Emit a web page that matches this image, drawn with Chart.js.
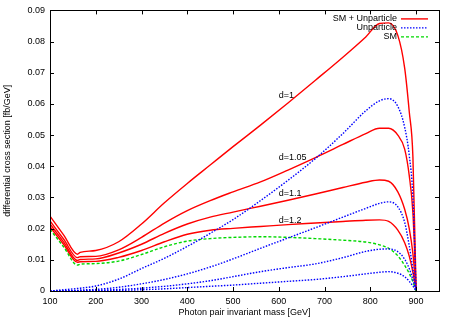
<!DOCTYPE html>
<html>
<head>
<meta charset="utf-8">
<script src="https://cdn.jsdelivr.net/npm/chart.js@4.4.1/dist/chart.umd.min.js"></script>
<style>
  html, body { margin: 0; padding: 0; background: #fff; }
</style>
</head>
<body>
<canvas id="chart" width="454" height="318"></canvas>
<script>
// photon pair invariant mass [GeV]
const mass = [100, 130, 160, 166, 200, 250, 300, 350, 400, 450, 500, 560, 620, 680, 740, 790, 820, 840, 860, 875, 885, 893, 900];

// SM + Unparticle
const total_d1   = [0.0240, 0.0179, 0.0118, 0.0124, 0.0130, 0.0158, 0.0215, 0.0283, 0.0345, 0.0404, 0.0463, 0.0532, 0.0603, 0.0676, 0.0750, 0.0815, 0.0858, 0.0860, 0.0820, 0.0715, 0.0575, 0.0430, 0];
const total_d105 = [0.0225, 0.0166, 0.0107, 0.0110, 0.0111, 0.0132, 0.0172, 0.0218, 0.0258, 0.0290, 0.0318, 0.0350, 0.0388, 0.0428, 0.0470, 0.0505, 0.0522, 0.0522, 0.0500, 0.0455, 0.0370, 0.0250, 0];
const total_d11  = [0.0215, 0.0157, 0.0098, 0.0101, 0.0103, 0.0122, 0.0150, 0.0185, 0.0215, 0.0237, 0.0253, 0.0272, 0.0291, 0.0311, 0.0332, 0.0349, 0.0356, 0.0352, 0.0318, 0.0262, 0.0200, 0.0120, 0];
const total_d12  = [0.0206, 0.0149, 0.0092, 0.0094, 0.0095, 0.0108, 0.0130, 0.0158, 0.0182, 0.0195, 0.0201, 0.0207, 0.0213, 0.0218, 0.0223, 0.0227, 0.0228, 0.0223, 0.0195, 0.0155, 0.0112, 0.0060, 0];

// Unparticle only
const unpart_d1   = [0, 0.0004, 0.0008, 0.0009, 0.0016, 0.0038, 0.0072, 0.0105, 0.0143, 0.0185, 0.0229, 0.0290, 0.0355, 0.0425, 0.0505, 0.0578, 0.0610, 0.0617, 0.0592, 0.0525, 0.0435, 0.0300, 0];
const unpart_d105 = [0, 0.0001, 0.0002, 0.0003, 0.0005, 0.0012, 0.0023, 0.0037, 0.0055, 0.0077, 0.0103, 0.0137, 0.0170, 0.0203, 0.0237, 0.0265, 0.0281, 0.0286, 0.0270, 0.0220, 0.0145, 0.0070, 0];
const unpart_d11  = [0, 0, 0.0001, 0.0001, 0.0002, 0.0005, 0.0009, 0.0015, 0.0023, 0.0033, 0.0046, 0.0062, 0.0075, 0.0087, 0.0107, 0.0127, 0.0134, 0.0135, 0.0126, 0.0102, 0.0072, 0.0036, 0];
const unpart_d12  = [0, 0, 0, 0, 0.0001, 0.0002, 0.0004, 0.0007, 0.0011, 0.0015, 0.0019, 0.0025, 0.0031, 0.0037, 0.0046, 0.0055, 0.0060, 0.0062, 0.0057, 0.0046, 0.0031, 0.0016, 0];

// Standard Model
const sm = [0.0198, 0.0141, 0.0083, 0.0086, 0.0088, 0.0096, 0.0117, 0.0142, 0.0160, 0.0168, 0.0172, 0.0174, 0.0172, 0.0168, 0.0163, 0.0157, 0.0148, 0.0137, 0.0113, 0.0082, 0.0056, 0.0030, 0];

const xTicks = [100, 200, 300, 400, 500, 600, 700, 800, 900];
const yTicks = [0, 0.01, 0.02, 0.03, 0.04, 0.05, 0.06, 0.07, 0.08, 0.09];
const yTickLabels = ["0", "0.01", "0.02", "0.03", "0.04", "0.05", "0.06", "0.07", "0.08", "0.09"];

// curve labels, placed in data coordinates
const annoText = ["d=1", "d=1.05", "d=1.1", "d=1.2"];
const annoX = [600, 600, 600, 600];
const annoY = [0.0628, 0.0429, 0.0314, 0.0227];

const FONT = "Liberation Sans, Arial, Helvetica, sans-serif";
const RED = "rgb(255,0,0)";
const BLUE = "rgb(0,0,255)";
const GREEN = "rgb(0,215,0)";

const toPoints = (ys) => mass.map((x, i) => ({ x: x, y: ys[i] }));

const line = (label, ys, color, dash) => ({
  label: label,
  data: toPoints(ys),
  borderColor: color,
  borderWidth: 1.4,
  borderDash: dash,
  pointRadius: 0,
  fill: false,
  cubicInterpolationMode: "monotone",
});

// gnuplot style frame: box border, inward ticks mirrored on all sides, inner legend
const framePlugin = {
  id: "frame",
  afterDraw(chart) {
    const { ctx, chartArea: a, scales } = chart;
    const x = scales.x;
    const y = scales.y;
    ctx.save();
    ctx.strokeStyle = "#000";
    ctx.lineWidth = 1;
    ctx.setLineDash([]);
    ctx.beginPath();
    xTicks.forEach((v) => {
      const px = Math.round(x.getPixelForValue(v)) + 0.5;
      ctx.moveTo(px, a.bottom); ctx.lineTo(px, a.bottom - 4);
      ctx.moveTo(px, a.top); ctx.lineTo(px, a.top + 4);
    });
    yTicks.forEach((v) => {
      const py = Math.round(y.getPixelForValue(v)) + 0.5;
      ctx.moveTo(a.left, py); ctx.lineTo(a.left + 4, py);
      ctx.moveTo(a.right, py); ctx.lineTo(a.right - 4, py);
    });
    ctx.stroke();
    ctx.strokeRect(Math.round(a.left) + 0.5, Math.round(a.top) + 0.5,
      Math.round(a.right - a.left), Math.round(a.bottom - a.top));

    // curve labels
    ctx.fillStyle = "#000";
    ctx.font = "9px " + FONT;
    ctx.textAlign = "left";
    ctx.textBaseline = "middle";
    annoText.forEach((t, i) => {
      ctx.fillText(t, x.getPixelForValue(annoX[i]), y.getPixelForValue(annoY[i]));
    });

    // legend
    const items = [
      { text: "SM + Unparticle", color: RED, dash: [] },
      { text: "Unparticle", color: BLUE, dash: [1.5, 1.5] },
      { text: "SM", color: GREEN, dash: [3, 2] },
    ];
    ctx.textAlign = "right";
    items.forEach((it, i) => {
      const ty = a.top + 8.5 + i * 9;
      ctx.fillStyle = "#000";
      ctx.fillText(it.text, a.right - 42, ty);
      ctx.strokeStyle = it.color;
      ctx.lineWidth = 1.4;
      ctx.setLineDash(it.dash);
      ctx.beginPath();
      ctx.moveTo(a.right - 38, ty);
      ctx.lineTo(a.right - 11, ty);
      ctx.stroke();
    });
    ctx.restore();
  },
};

new Chart(document.getElementById("chart").getContext("2d"), {
  type: "line",
  data: {
    datasets: [
      line("Unparticle d=1", unpart_d1, BLUE, [1.5, 1.5]),
      line("Unparticle d=1.05", unpart_d105, BLUE, [1.5, 1.5]),
      line("Unparticle d=1.1", unpart_d11, BLUE, [1.5, 1.5]),
      line("Unparticle d=1.2", unpart_d12, BLUE, [1.5, 1.5]),
      line("SM", sm, GREEN, [3, 2]),
      line("SM + Unparticle d=1", total_d1, RED, []),
      line("SM + Unparticle d=1.05", total_d105, RED, []),
      line("SM + Unparticle d=1.1", total_d11, RED, []),
      line("SM + Unparticle d=1.2", total_d12, RED, []),
    ],
  },
  options: {
    responsive: false,
    animation: false,
    layout: { padding: { top: 10, right: 15, left: 0, bottom: 0 } },
    plugins: {
      legend: { display: false },
      tooltip: { enabled: false },
    },
    scales: {
      x: {
        type: "linear",
        min: 100,
        max: 950,
        afterBuildTicks: (scale) => {
          scale.ticks = xTicks.map((v) => ({ value: v }));
        },
        afterFit: (scale) => {
          scale.height = 27;
        },
        grid: { display: false, drawTicks: false },
        border: { display: false },
        ticks: {
          padding: 5,
          maxRotation: 0,
          autoSkip: false,
          color: "#000",
          font: { family: FONT, size: 9 },
        },
        title: {
          display: true,
          text: "Photon pair invariant mass [GeV]",
          color: "#000",
          font: { family: FONT, size: 9 },
          padding: 0,
        },
      },
      y: {
        min: 0,
        max: 0.09,
        afterBuildTicks: (scale) => {
          scale.ticks = yTicks.map((v) => ({ value: v }));
        },
        afterFit: (scale) => {
          scale.width = 50;
        },
        grid: { display: false, drawTicks: false },
        border: { display: false },
        ticks: {
          padding: 5,
          autoSkip: false,
          color: "#000",
          font: { family: FONT, size: 9 },
          callback: (value, index) => yTickLabels[index],
        },
        title: {
          display: true,
          text: "differential cross section [fb/GeV]",
          color: "#000",
          font: { family: FONT, size: 9 },
          padding: { top: 2, bottom: 0 },
        },
      },
    },
  },
  plugins: [framePlugin],
});
</script>
</body>
</html>
